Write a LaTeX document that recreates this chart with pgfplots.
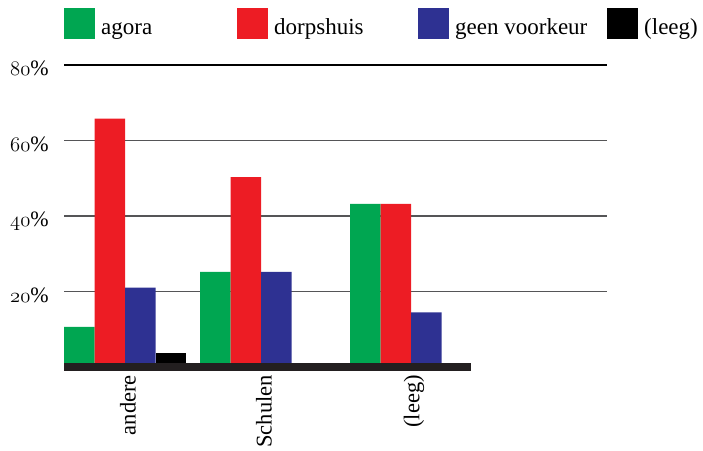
\documentclass[border=0pt]{standalone}
\usepackage{fontspec}
\setmainfont{Liberation Serif}
\usepackage{pgfplots}
\pgfplotsset{compat=1.18}
\definecolor{cgreen}{HTML}{00A651}
\definecolor{cred}{HTML}{ED1C24}
\definecolor{cblue}{HTML}{2E3192}
\definecolor{cbase}{HTML}{231F20}
\definecolor{cgrid}{HTML}{555557}
\begin{document}
\begin{tikzpicture}
\path[use as bounding box] (0bp,0bp) rectangle (703bp,451bp);
\begin{axis}[
  at={(64bp,84bp)}, anchor=south west,
  scale only axis, width=543bp, height=302bp,
  xmin=64, xmax=607, ymin=0, ymax=80,
  clip=false,
  ybar=0pt, bar width=30.5,
  legend image code/.code={\fill[#1] (0bp,-5bp) rectangle (31bp,26bp);},
  axis line style={draw=none},
  major tick length=0pt,
  tick style={draw=none},
  ymajorgrids,
  grid style={cgrid, line width=1.4bp},
  ytick={20,40,60},
  yticklabels={$\mathnormal{20}\%$,$\mathnormal{40}\%$,$\mathnormal{60}\%$},
  extra y ticks={80},
  extra y tick labels={$\mathnormal{80}\%$},
  extra y tick style={grid style={black, line width=1.4bp}},
  yticklabel style={anchor=base east, inner sep=0pt, xshift=-15bp, yshift=-10.5bp, font=\fontsize{22bp}{26bp}\selectfont},
  xtick={125,261,411},
  xticklabels={andere,Schulen,(leeg)},
  xticklabel style={rotate=90, anchor=east, inner sep=0pt, xshift=-8bp, yshift=-3bp, font=\fontsize{22.5bp}{27bp}\selectfont},
  legend columns=4,
  legend style={at={(axis cs:64,95.1)}, anchor=north west, draw=none, fill=none,
    inner sep=0pt, column sep=0pt, row sep=0pt,
    nodes={inner sep=0pt, anchor=base west},
    font=\fontsize{23bp}{27bp}\selectfont},
]
\addplot[fill=cgreen, draw=none] coordinates {(125,10.6) (261,25.2) (411,43.2)};
\addlegendentry{\hspace{6bp}\makebox[136bp][l]{agora}}
\addplot[fill=cred, draw=none] coordinates {(125,65.8) (261,50.3) (411,43.2)};
\addlegendentry{\hspace{6bp}\makebox[144bp][l]{dorpshuis}}
\addplot[fill=cblue, draw=none] coordinates {(125,21.0) (261,25.2) (411,14.5)};
\addlegendentry{\hspace{6bp}\makebox[152bp][l]{geen voorkeur}}
\addplot[fill=black, draw=none] coordinates {(125,3.8)};
\addlegendentry{\hspace{6bp}(leeg)}
\addplot[sharp plot, draw=cbase, line width=8bp, forget plot] coordinates {(64,0) (471,0)};
\end{axis}
\end{tikzpicture}
\end{document}
